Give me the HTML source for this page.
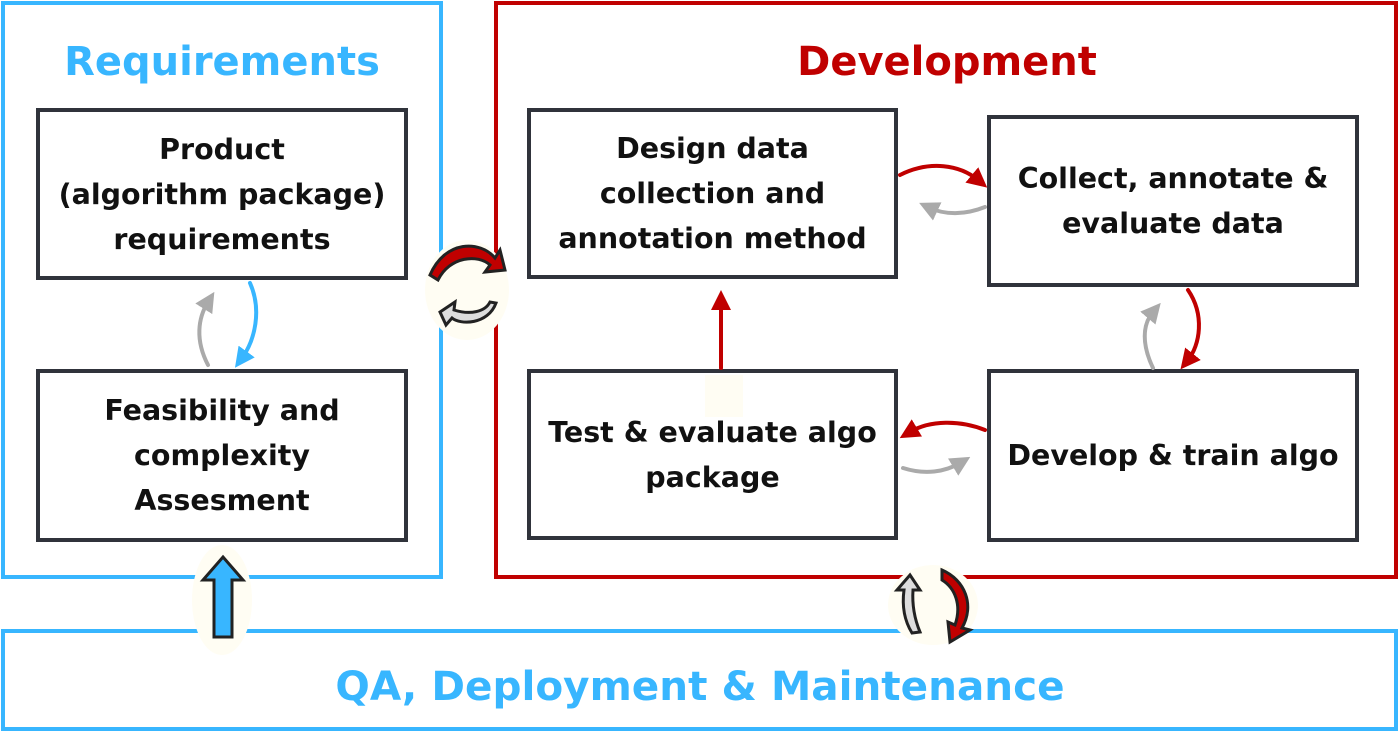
<!DOCTYPE html>
<html><head><style>
body{margin:0;width:1400px;height:733px;background:#fff;position:relative;overflow:hidden;font-family:"DejaVu Sans","Liberation Sans",sans-serif;font-weight:bold}
.c{position:absolute;box-sizing:border-box}
.b{position:absolute;box-sizing:border-box;border:4px solid #30333b;display:flex;align-items:center;justify-content:center;text-align:center;color:#111;font-size:28.5px;line-height:45px;background:#fff}
.t{position:absolute;text-align:center;font-size:40px}
</style></head><body>
<div class="c" style="left:1px;top:1px;width:442px;height:578px;border:4px solid #38b6ff"></div>
<div class="c" style="left:494px;top:1px;width:904px;height:578px;border:4px solid #c00000"></div>
<div class="c" style="left:1px;top:629px;width:1397px;height:102px;border:4px solid #38b6ff"></div>
<div class="t" style="left:2px;width:440px;top:39px;color:#38b6ff">Requirements</div>
<div class="t" style="left:496px;width:902px;top:39px;color:#c00000">Development</div>
<div class="t" style="left:0;width:1400px;top:662px;color:#38b6ff;font-size:40.5px">QA, Deployment &amp; Maintenance</div>
<div class="b" style="left:36px;top:108px;width:372px;height:172px">Product<br>(algorithm package)<br>requirements</div>
<div class="b" style="left:36px;top:369px;width:372px;height:173px">Feasibility and<br>complexity<br>Assesment</div>
<div class="b" style="left:527px;top:108px;width:371px;height:171px">Design data<br>collection and<br>annotation method</div>
<div class="b" style="left:987px;top:115px;width:372px;height:172px">Collect, annotate &amp;<br>evaluate data</div>
<div class="b" style="left:527px;top:369px;width:371px;height:171px">Test &amp; evaluate algo<br>package</div>
<div class="b" style="left:987px;top:369px;width:372px;height:173px">Develop &amp; train algo</div>
<svg width="1400" height="733" style="position:absolute;left:0;top:0">
<defs>
<marker id="r" markerWidth="5" markerHeight="5" refX="2" refY="2.5" orient="auto"><path d="M0,0L5,2.5L0,5z" fill="#c00000"/></marker>
<marker id="g" markerWidth="5" markerHeight="5" refX="2" refY="2.5" orient="auto"><path d="M0,0L5,2.5L0,5z" fill="#aaa"/></marker>
<marker id="bl" markerWidth="5" markerHeight="5" refX="2" refY="2.5" orient="auto"><path d="M0,0L5,2.5L0,5z" fill="#38b6ff"/></marker>
</defs>
<g fill="none" stroke-width="4" stroke-linecap="round">
<path d="M250,283 C262,310 255,340 242,358" stroke="#38b6ff" marker-end="url(#bl)"/>
<path d="M208,365 C195,340 198,318 208,302" stroke="#aaa" marker-end="url(#g)"/>
<path d="M900,175 C930,160 960,165 978,180" stroke="#c00000" marker-end="url(#r)"/>
<path d="M985,207 C965,215 945,215 930,208" stroke="#aaa" marker-end="url(#g)"/>
<path d="M1188,290 C1205,315 1200,345 1188,360" stroke="#c00000" marker-end="url(#r)"/>
<path d="M1153,368 C1142,345 1142,325 1153,312" stroke="#aaa" marker-end="url(#g)"/>
<path d="M985,430 C960,420 930,420 910,432" stroke="#c00000" marker-end="url(#r)"/>
<path d="M903,468 C925,475 945,472 960,463" stroke="#aaa" marker-end="url(#g)"/>
<path d="M721,368 L721,302" stroke="#c00000" marker-end="url(#r)"/>
</g>
<rect x="705" y="375" width="38" height="42" fill="#fffdf3"/>
<ellipse cx="467" cy="290" rx="42" ry="50" fill="#fffdf3"/>
<path d="M430,275 C445,240 480,240 495,258 L500,250 L505,270 L485,272 L490,265 C478,254 450,256 438,280 Z" fill="#c00000" stroke="#222" stroke-width="3"/>
<path d="M496,303 C488,325 460,325 452,318 L446,325 L440,312 L455,302 L454,310 C470,315 485,312 490,302 Z" fill="#ddd" stroke="#222" stroke-width="3"/>
<ellipse cx="222" cy="600" rx="30" ry="55" fill="#fffdf3"/>
<path d="M223,557 L243,580 L232,580 L232,637 L214,637 L214,580 L203,580 Z" fill="#38b6ff" stroke="#222" stroke-width="3"/>
<ellipse cx="933" cy="605" rx="45" ry="40" fill="#fffdf3"/>
<path d="M910,575 L920,590 L913,590 C912,605 915,620 920,632 L912,633 C904,620 902,605 904,590 L897,590 Z" fill="#ddd" stroke="#222" stroke-width="3"/>
<path d="M942,570 C965,580 975,605 962,628 L970,630 L950,642 L948,622 L955,625 C962,605 955,588 942,580 Z" fill="#c00000" stroke="#222" stroke-width="3"/>
</svg>
</body></html>
